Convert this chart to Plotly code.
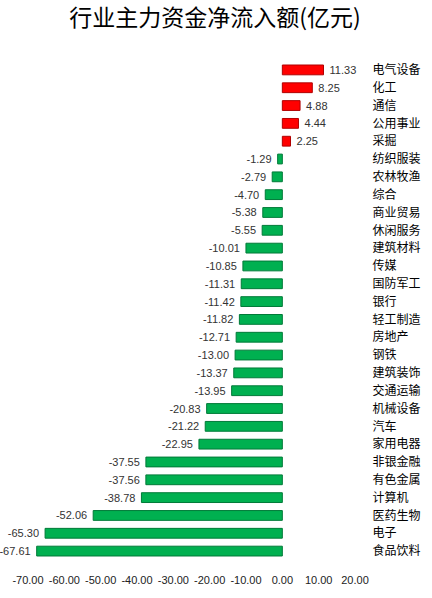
import plotly.graph_objects as go

categories = ["电气设备", "化工", "通信", "公用事业", "采掘", "纺织服装", "农林牧渔", "综合",
              "商业贸易", "休闲服务", "建筑材料", "传媒", "国防军工", "银行", "轻工制造", "房地产",
              "钢铁", "建筑装饰", "交通运输", "机械设备", "汽车", "家用电器", "非银金融", "有色金属",
              "计算机", "医药生物", "电子", "食品饮料"]
values = [11.33, 8.25, 4.88, 4.44, 2.25, -1.29, -2.79, -4.70,
          -5.38, -5.55, -10.01, -10.85, -11.31, -11.42, -11.82, -12.71,
          -13.00, -13.37, -13.95, -20.83, -21.22, -22.95, -37.55, -37.56,
          -38.78, -52.06, -65.30, -67.61]
tick_vals = [-70, -60, -50, -40, -30, -20, -10, 0, 10, 20]

colors = ["#FF0000" if v > 0 else "#00B050" for v in values]
line_colors = ["#B00000" if v > 0 else "#007A38" for v in values]
texts = [(" %.2f" % v) if v > 0 else ("%.2f " % v) for v in values]

fig = go.Figure()
fig.add_trace(go.Bar(
    x=values, y=categories, orientation="h",
    marker=dict(color=colors, line=dict(color=line_colors, width=1)),
    text=texts, textposition="outside", cliponaxis=False,
    constraintext="none", textangle=0,
    textfont=dict(family="Liberation Sans, Arial", size=11, color="#333333"),
))

fig.update_layout(
    width=432, height=598,
    margin=dict(l=27, r=76, t=61, b=37),
    paper_bgcolor="white", plot_bgcolor="white",
    showlegend=False, bargap=0.45,
    uniformtext=dict(minsize=11, mode="show"),
    title=dict(text="行业主力资金净流入额(亿元)", x=0.498, xref="container", y=0.97,
               yanchor="middle", xanchor="center",
               font=dict(family="Noto Sans CJK SC", size=23, color="#000000")),
    xaxis=dict(range=[-70, 20], tickvals=tick_vals,
               ticktext=["%.2f" % t for t in tick_vals],
               showgrid=False, zeroline=False, showline=False,
               tickfont=dict(family="Liberation Sans, Arial", size=11, color="#222222"),
               ticks="outside", ticklen=10, tickcolor="rgba(0,0,0,0)"),
    yaxis=dict(side="right", autorange="reversed", showgrid=False, zeroline=False,
               showline=False, ticks="outside", ticklen=14, tickcolor="rgba(0,0,0,0)",
               tickfont=dict(family="Noto Sans CJK SC", size=12, color="#000000"),
               anchor="x", position=1),
    font=dict(family="Noto Sans CJK SC"),
)

fig.write_html("out.html")
